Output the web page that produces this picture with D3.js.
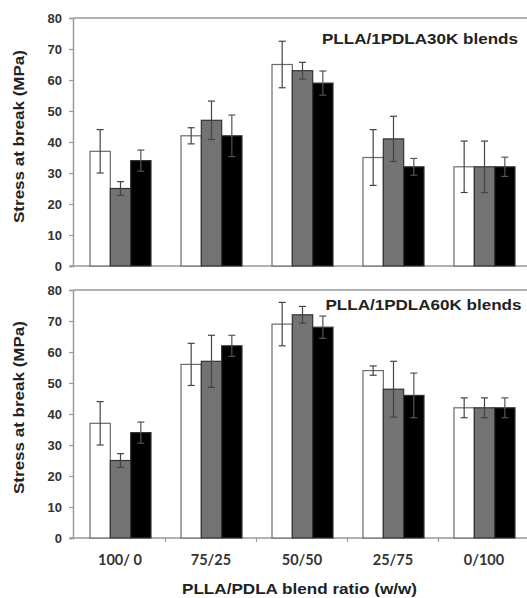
<!DOCTYPE html>
<html><head><meta charset="utf-8">
<script src="https://cdn.jsdelivr.net/npm/d3@7"></script>
<style>body{margin:0;background:#fff}svg{display:block}</style>
</head><body>
<script>
const categories = ["100/ 0", "75/25", "50/50", "25/75", "0/100"];
const series = ["s1", "s2", "s3"];
const yTicks = [0, 10, 20, 30, 40, 50, 60, 70, 80];
const panelTitles = ["PLLA/1PDLA30K blends", "PLLA/1PDLA60K blends"];
const top30Values = [[37, 25, 34], [42, 47, 42], [65, 63, 59], [35, 41, 32], [32, 32, 32]];
const top30Errors = [[7, 2.2, 3.4], [2.6, 6.2, 6.7], [7.5, 2.7, 3.9], [9, 7.3, 2.7], [8.3, 8.3, 3.1]];
const bot60Values = [[37, 25, 34], [56, 57, 62], [69, 72, 68], [54, 48, 46], [42, 42, 42]];
const bot60Errors = [[7, 2.2, 3.4], [6.8, 8.4, 3.4], [7, 2.7, 3.6], [1.5, 9, 7.2], [3.2, 3.2, 3.2]];
const fills = ["#ffffff", "#737373", "#000000"];
const yTitle = "Stress at break (MPa)";
const xTitle = "PLLA/PDLA blend ratio (w/w)";

const W = 527, H = 598;
const FONT = "Liberation Sans, Arial, sans-serif";
const svg = d3.select("body").append("svg").attr("width", W).attr("height", H);

const x = d3.scaleBand().domain(categories).range([74.5, 529.5]);
const xi = d3.scaleBand().domain(series).range([15.5, 76.5]);

const panels = [
  {vals: top30Values, errs: top30Errors, title: panelTitles[0], y0: 266, y1: 18, xticks: false, tx: 518, tdy: 26, ty: 137},
  {vals: bot60Values, errs: bot60Errors, title: panelTitles[1], y0: 538, y1: 290, xticks: true, tx: 521.5, tdy: 20, ty: 408}
];

panels.forEach((p, pi) => {
  const y = d3.scaleLinear().domain([0, 80]).range([p.y0, p.y1]);
  const g = svg.append("g");
  g.append("line").attr("x1", 73).attr("x2", W).attr("y1", y(80)).attr("y2", y(80))
    .attr("stroke", "#9a9a9a").attr("stroke-width", 1.5);
  const ya = g.append("g").attr("transform", "translate(73,0)")
    .call(d3.axisLeft(y).tickValues(yTicks).tickSize(4).tickPadding(7));
  ya.select(".domain").attr("stroke", "#9a9a9a").attr("stroke-width", 1.5);
  ya.selectAll(".tick line").attr("stroke", "#9a9a9a").attr("stroke-width", 1.2);
  ya.selectAll(".tick text").attr("font-family", FONT)
    .attr("font-weight", "bold").attr("font-size", 13).attr("fill", "#333");
  g.append("line").attr("x1", 70).attr("x2", W).attr("y1", p.y0).attr("y2", p.y0)
    .attr("stroke", "#9a9a9a").attr("stroke-width", 1.5);
  if (p.xticks) {
    g.selectAll(".xt").data(categories.slice(1)).join("line").attr("class", "xt")
      .attr("x1", d => x(d)).attr("x2", d => x(d)).attr("y1", p.y0).attr("y2", p.y0 + 4)
      .attr("stroke", "#9a9a9a").attr("stroke-width", 1.2);
  }
  categories.forEach((c, ci) => {
    series.forEach((s, si) => {
      const v = p.vals[ci][si], e = p.errs[ci][si];
      const bx = x(c) + xi(s), bw = xi.bandwidth();
      g.append("rect").attr("x", bx).attr("y", y(v)).attr("width", bw).attr("height", p.y0 - y(v))
        .attr("fill", fills[si]).attr("stroke", si === 0 ? "#6a6a6a" : "#333").attr("stroke-width", 1.2);
      const cx = bx + bw / 2;
      const ec = si === 2 ? "#555" : "#444";
      g.append("line").attr("x1", cx).attr("x2", cx).attr("y1", y(v + e)).attr("y2", y(v - e))
        .attr("stroke", ec).attr("stroke-width", 1.2);
      [v + e, v - e].forEach(t => g.append("line").attr("x1", cx - 3.5).attr("x2", cx + 3.5)
        .attr("y1", y(t)).attr("y2", y(t)).attr("stroke", ec).attr("stroke-width", 1.2));
    });
  });
  g.append("text").attr("x", p.tx - 196).attr("y", y(80) + p.tdy)
    .attr("textLength", 196).attr("lengthAdjust", "spacingAndGlyphs")
    .attr("font-family", FONT).attr("font-weight", "bold").attr("font-size", 15.5)
    .attr("fill", "#222").text(p.title);
  g.append("text").attr("transform", `translate(24,${p.ty}) rotate(-90)`)
    .attr("x", -86).attr("textLength", 173).attr("lengthAdjust", "spacingAndGlyphs")
    .attr("font-family", FONT).attr("font-weight", "bold").attr("font-size", 15.5)
    .attr("fill", "#222").text(yTitle);
});

svg.selectAll(".xl").data(categories).join("text").attr("class", "xl")
  .attr("x", d => x(d) + x.bandwidth() / 2).attr("y", 565)
  .attr("text-anchor", "middle").attr("font-family", "Lato, sans-serif")
  .attr("font-weight", "bold").attr("font-size", 14.5).attr("fill", "#333").text(d => d);

svg.append("text").attr("x", 182).attr("y", 594)
  .attr("textLength", 235).attr("lengthAdjust", "spacingAndGlyphs")
  .attr("font-family", FONT).attr("font-weight", "bold")
  .attr("font-size", 15.5).attr("fill", "#222").text(xTitle);
</script>
</body></html>
